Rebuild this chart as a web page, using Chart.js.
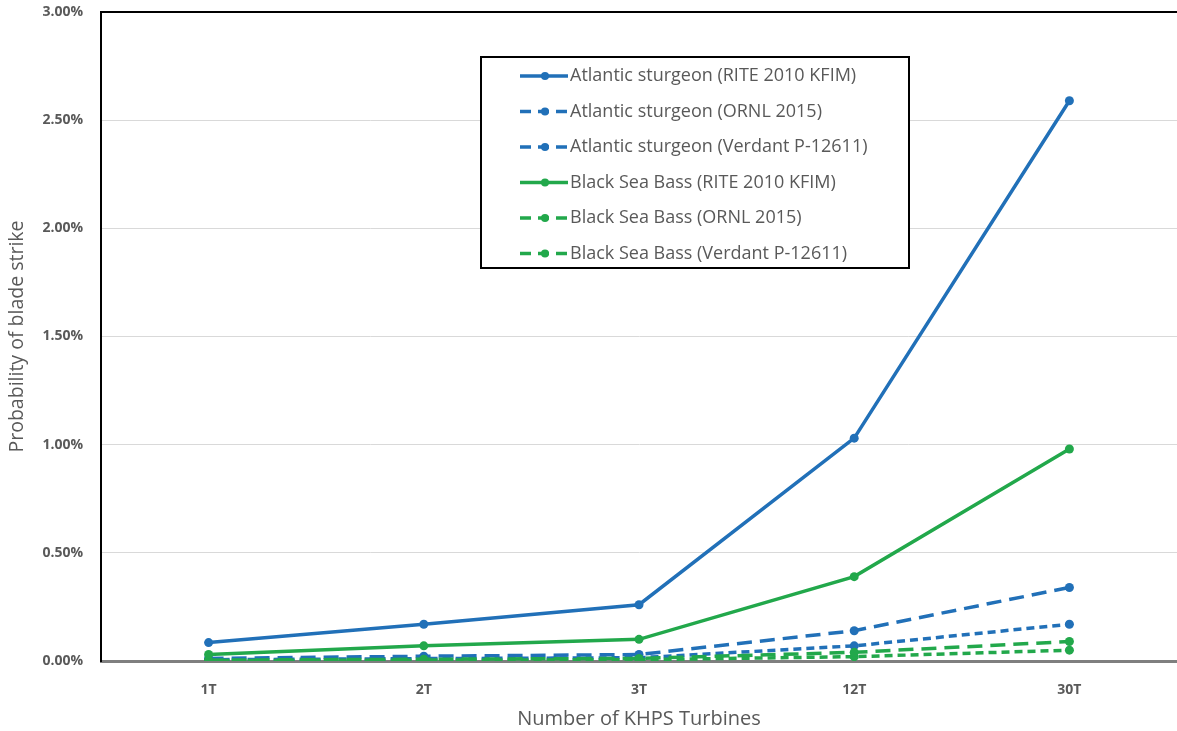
<!DOCTYPE html>
<html>
<head>
<meta charset="utf-8">
<script src="https://cdn.jsdelivr.net/npm/chart.js@4/dist/chart.umd.min.js"></script>
<style>
html,body{margin:0;padding:0;background:#fff;}
#wrap{width:1177px;height:731px;position:relative;}
</style>
</head>
<body>
<div id="wrap"><canvas id="c" width="1177" height="731"></canvas></div>
<script>
const categories = ['1T', '2T', '3T', '12T', '30T'];
const atlRite    = [0.085, 0.17, 0.26, 1.03, 2.59];
const atlOrnl    = [0.012, 0.022, 0.03, 0.14, 0.34];
const atlVerdant = [0.006, 0.011, 0.015, 0.07, 0.17];
const bsbRite    = [0.03, 0.07, 0.10, 0.39, 0.98];
const bsbOrnl    = [0.004, 0.008, 0.012, 0.04, 0.09];
const bsbVerdant = [0.002, 0.004, 0.006, 0.02, 0.05];
const seriesLabels = [
  'Atlantic sturgeon (RITE 2010 KFIM)',
  'Atlantic sturgeon (ORNL 2015)',
  'Atlantic sturgeon (Verdant P-12611)',
  'Black Sea Bass (RITE 2010 KFIM)',
  'Black Sea Bass (ORNL 2015)',
  'Black Sea Bass (Verdant P-12611)'
];
const yMin = 0, yMax = 3, yStep = 0.5;

const BLUE = '#2170B8';
const GREEN = '#22A84B';
const GRAY_TEXT = '#595959';

function ds(label, data, color, dash, order) {
  return {
    label, data,
    borderColor: color, backgroundColor: color,
    borderWidth: 3.5, borderDash: dash,
    pointRadius: 4.5, pointHoverRadius: 4.5,
    pointBackgroundColor: color, pointBorderColor: color, pointBorderWidth: 0,
    tension: 0, fill: false, order
  };
}

const datasets = [
  ds(seriesLabels[0], atlRite, BLUE, [], 3),
  ds(seriesLabels[1], atlOrnl, BLUE, [15, 8], 4),
  ds(seriesLabels[2], atlVerdant, BLUE, [8, 5], 5),
  ds(seriesLabels[3], bsbRite, GREEN, [], 0),
  ds(seriesLabels[4], bsbOrnl, GREEN, [15, 8], 1),
  ds(seriesLabels[5], bsbVerdant, GREEN, [8, 5], 2)
];

const boxLegend = {
  id: 'boxLegend',
  afterDraw(chart) {
    const ctx = chart.ctx;
    const ca = chart.chartArea;
    const x0 = ca.left + 380, y0 = 57, w = 428, h = 211;
    ctx.save();
    ctx.fillStyle = '#fff';
    ctx.fillRect(x0, y0, w, h);
    ctx.lineWidth = 2;
    ctx.strokeStyle = '#000';
    ctx.strokeRect(x0, y0, w, h);
    const rowY0 = 76, rowStep = 35.5;
    chart.data.datasets.forEach((d, i) => {
      const y = rowY0 + i * rowStep;
      ctx.strokeStyle = d.borderColor;
      ctx.lineWidth = 3.5;
      ctx.setLineDash(d.borderDash && d.borderDash.length ? [11, 7] : []);
      ctx.beginPath();
      ctx.moveTo(x0 + 39, y);
      ctx.lineTo(x0 + 87, y);
      ctx.stroke();
      ctx.setLineDash([]);
      ctx.fillStyle = d.borderColor;
      ctx.beginPath();
      ctx.arc(x0 + 64, y, 4, 0, Math.PI * 2);
      ctx.fill();
      ctx.fillStyle = GRAY_TEXT;
      ctx.font = '18px "Open Sans"';
      ctx.textBaseline = 'middle';
      ctx.textAlign = 'left';
      ctx.fillText(d.label, x0 + 89, y);
    });
    ctx.restore();
  }
};

new Chart(document.getElementById('c'), {
  type: 'line',
  data: { labels: categories, datasets },
  plugins: [boxLegend],
  options: {
    responsive: false,
    animation: false,
    layout: { autoPadding: false, padding: { top: 12, right: 0, left: 0, bottom: 0 } },
    plugins: { legend: { display: false }, tooltip: { enabled: false } },
    scales: {
      x: {
        type: 'category',
        offset: true,
        grid: { display: false },
        border: { display: true, color: '#7F7F7F', width: 3 },
        ticks: { color: GRAY_TEXT, font: { family: 'Open Sans', size: 14, weight: 'bold' }, padding: 13 },
        title: { display: true, text: 'Number of KHPS Turbines', color: GRAY_TEXT, font: { family: 'Open Sans', size: 20 }, padding: { top: 4, bottom: 0 } },
        afterFit(s) { s.height = 70; s.paddingLeft = 0; s.paddingRight = 0; }
      },
      y: {
        min: yMin, max: yMax,
        ticks: {
          stepSize: yStep,
          color: GRAY_TEXT,
          font: { family: 'Open Sans', size: 14, weight: 'bold' },
          padding: 18,
          callback: v => v.toFixed(2) + '%'
        },
        grid: {
          drawTicks: false,
          color: c => (c.tick && c.tick.value === yMax) ? '#000' : '#D9D9D9',
          lineWidth: c => (c.tick && c.tick.value === yMax) ? 2 : 1
        },
        border: { display: true, color: '#000', width: 2 },
        title: { display: true, text: 'Probability of blade strike', color: GRAY_TEXT, font: { family: 'Open Sans', size: 19.5 }, padding: { top: 6, bottom: 0 } },
        afterFit(s) { s.width = 101; s.paddingTop = 0; s.paddingBottom = 0; }
      }
    }
  }
});
</script>
</body>
</html>
